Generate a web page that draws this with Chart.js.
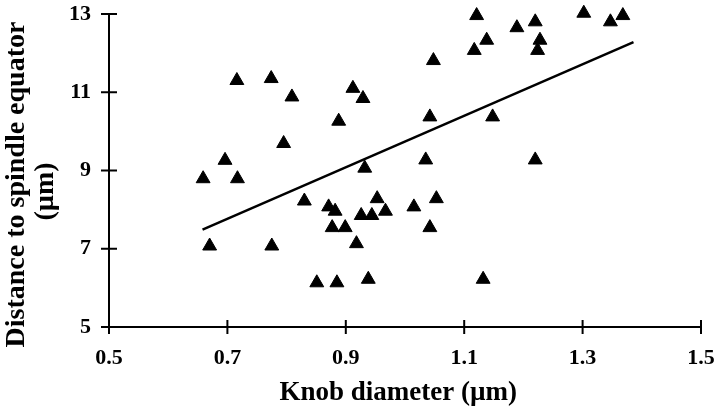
<!DOCTYPE html>
<html>
<head>
<meta charset="utf-8">
<script src="https://cdn.jsdelivr.net/npm/chart.js@4/dist/chart.umd.min.js"></script>
<style>
  html, body { margin: 0; padding: 0; background: #fff; }
  #wrap { width: 720px; height: 415px; }
</style>
</head>
<body>
<div id="wrap"><canvas id="grafico"></canvas></div>
<script>
// knob diameter (um) and distance to spindle equator (um)
var knobX = [0.659, 0.670, 0.696, 0.717, 0.716, 0.774, 0.775, 0.795, 0.809, 0.830,
             0.888, 0.912, 0.929, 0.932, 0.871, 0.882, 0.877, 0.899, 0.851, 0.885,
             0.938, 0.918, 0.926, 0.944, 0.953, 0.967, 1.015, 1.053, 1.042, 1.132,
             1.035, 1.042, 1.048, 1.117, 1.121, 1.138, 1.148, 1.189, 1.220, 1.228,
             1.224, 1.220, 1.302, 1.347, 1.368];
var distY = [8.79, 7.07, 9.26, 8.79, 11.30, 11.35, 7.07, 9.69, 10.88, 8.22,
             10.26, 11.10, 10.84, 9.06, 8.07, 7.96, 7.54, 7.54, 6.13, 6.13,
             6.22, 7.13, 7.85, 7.85, 8.28, 7.96, 8.07, 8.28, 7.54, 6.22,
             9.27, 10.37, 11.81, 12.07, 12.96, 12.33, 10.37, 12.65, 12.80, 12.33,
             12.07, 9.27, 13.02, 12.80, 12.96];

// regression line end points
var fitX = [0.658, 1.386];
var fitY = [7.49, 12.28];

var xTicks = [0.5, 0.7, 0.9, 1.1, 1.3, 1.5];
var yTicks = [5, 7, 9, 11, 13];

var pontos = knobX.map(function (x, i) { return { x: x, y: distY[i] }; });
var reta = fitX.map(function (x, i) { return { x: x, y: fitY[i] }; });

// tick marks that cross the axis line
var marcas = {
  id: 'marcas',
  afterDraw: function (chart) {
    var ctx = chart.ctx;
    var sx = chart.scales.x, sy = chart.scales.y;
    var a = chart.chartArea;
    ctx.save();
    ctx.strokeStyle = '#000';
    ctx.lineWidth = 2;
    xTicks.forEach(function (v) {
      var px = sx.getPixelForValue(v);
      ctx.beginPath();
      ctx.moveTo(px, a.bottom - 7);
      ctx.lineTo(px, a.bottom + 7);
      ctx.stroke();
    });
    yTicks.forEach(function (v) {
      var py = sy.getPixelForValue(v);
      ctx.beginPath();
      ctx.moveTo(a.left - 8, py);
      ctx.lineTo(a.left + 8, py);
      ctx.stroke();
    });
    ctx.restore();
  }
};

var fonteTick = { family: 'Liberation Serif', size: 22, weight: 'bold' };
var fonteTituloX = { family: 'Liberation Serif', size: 27, weight: 'bold', lineHeight: 1.1 };
var fonteTituloY = { family: 'Liberation Serif', size: 28, weight: 'bold', lineHeight: 1.05 };

var ctx = document.getElementById('grafico').getContext('2d');
var chart = new Chart(ctx, {
  type: 'scatter',
  data: {
    datasets: [{
      data: pontos,
      pointStyle: 'triangle',
      pointRadius: 8,
      pointHoverRadius: 8,
      backgroundColor: '#000',
      borderColor: '#000',
      borderWidth: 1,
      clip: false
    }, {
      type: 'line',
      data: reta,
      borderColor: '#000',
      borderWidth: 2.5,
      pointRadius: 0,
      fill: false,
      clip: false
    }]
  },
  options: {
    responsive: true,
    maintainAspectRatio: false,
    animation: false,
    events: [],
    layout: { padding: { top: 14, right: 19, left: 0, bottom: 0 } },
    plugins: { legend: { display: false }, tooltip: { enabled: false } },
    scales: {
      x: {
        type: 'linear',
        min: 0.5, max: 1.5,
        afterBuildTicks: function (s) { s.ticks = xTicks.map(function (v) { return { value: v }; }); },
        afterFit: function (s) { s.height = 88; s.paddingLeft = 0; s.paddingRight = 0; },
        grid: { display: false, drawTicks: false },
        border: { display: true, color: '#000', width: 2 },
        ticks: {
          color: '#000', font: fonteTick, padding: 18, maxRotation: 0,
          callback: function (v) { return v.toFixed(1); }
        },
        title: {
          display: true, text: 'Knob diameter (\u00b5m)\u2002', color: '#000',
          font: fonteTituloX, padding: { top: 0, bottom: 7 }
        }
      },
      y: {
        type: 'linear',
        min: 5, max: 13,
        afterBuildTicks: function (s) { s.ticks = yTicks.map(function (v) { return { value: v }; }); },
        afterFit: function (s) { s.width = 109; s.paddingTop = 0; s.paddingBottom = 0; },
        grid: { display: false, drawTicks: false },
        border: { display: true, color: '#000', width: 2 },
        ticks: { color: '#000', font: fonteTick, padding: 18 },
        title: {
          display: true,
          text: ['Distance to spindle equator\u2003', '(\u00b5m)\u2003\u2002'],
          color: '#000',
          font: fonteTituloY, padding: { top: 2, bottom: 0 }
        }
      }
    }
  },
  plugins: [marcas]
});
</script>
</body>
</html>
